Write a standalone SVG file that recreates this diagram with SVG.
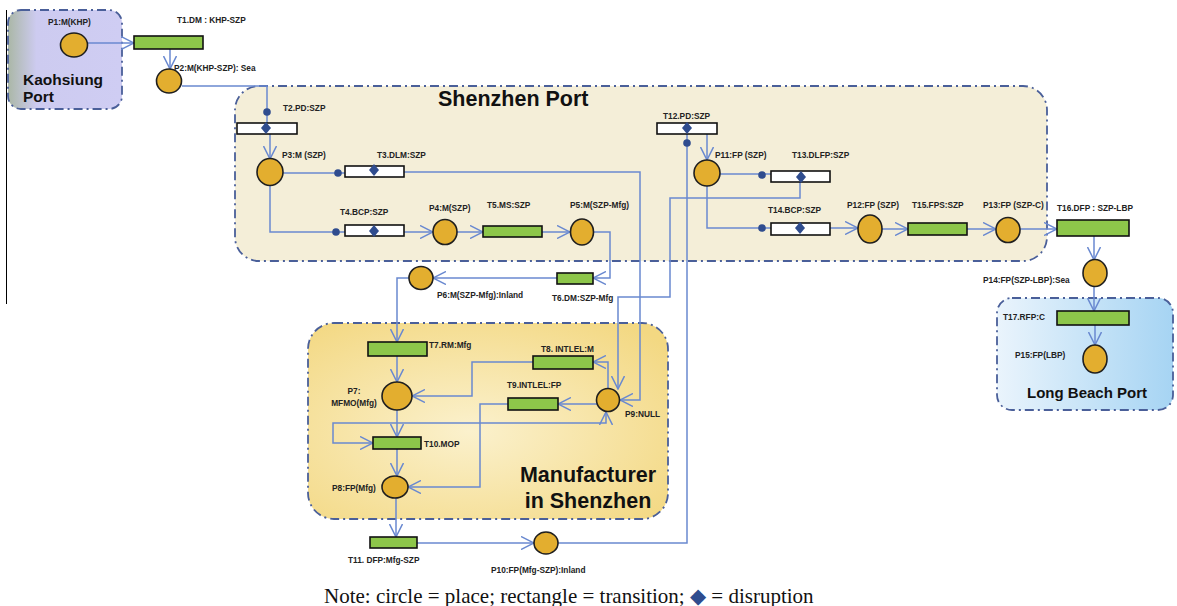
<svg xmlns="http://www.w3.org/2000/svg" width="1177" height="606" viewBox="0 0 1177 606">
<style>
.bx{stroke:#4a5f99;stroke-width:1.8;stroke-dasharray:9 4 2 4}
.pl{fill:#e3ae2f;stroke:#1f1f1f;stroke-width:1.6}
.tg{fill:#8dc64a;stroke:#111;stroke-width:1.6}
.tw{fill:#fff;stroke:#111;stroke-width:1.6}
.cn{fill:none;stroke:#6a89d0;stroke-width:1.5}
.ar{marker-end:url(#ah)}
.dm{fill:#2f4c8e}
.lb{font-family:"Liberation Sans",Arial,sans-serif;font-weight:bold;font-size:8.3px;fill:#222}
.tt{font-family:"Liberation Sans",Arial,sans-serif;font-weight:bold;fill:#111}
</style>
<defs>
<marker id="ah" viewBox="0 0 14 14" refX="13" refY="7" markerWidth="14" markerHeight="14" markerUnits="userSpaceOnUse" orient="auto">
<path d="M0,0.5 L13,7 L0,13.5" fill="none" stroke="#6a89d0" stroke-width="1.5"/>
</marker>
<marker id="ahs" viewBox="0 0 14 14" refX="13" refY="7" markerWidth="14" markerHeight="14" markerUnits="userSpaceOnUse" orient="auto-start-reverse">
<path d="M0,0.5 L13,7 L0,13.5" fill="none" stroke="#6a89d0" stroke-width="1.5"/>
</marker>
<linearGradient id="gk" x1="0" y1="0" x2="1" y2="0">
<stop offset="0" stop-color="#aab7a6"/><stop offset="0.25" stop-color="#cdcbf0"/><stop offset="1" stop-color="#cfcdf3"/>
</linearGradient>
<radialGradient id="gm" cx="0.45" cy="0.55" r="0.7">
<stop offset="0" stop-color="#fbf1cd"/><stop offset="1" stop-color="#f3d882"/>
</radialGradient>
<linearGradient id="gl" x1="0" y1="0" x2="1" y2="0">
<stop offset="0" stop-color="#eaf4fc"/><stop offset="1" stop-color="#a6d4f3"/>
</linearGradient>
</defs>

<line x1="6.5" y1="10" x2="6.5" y2="304" stroke="#000" stroke-width="1"/>

<g id="kaohsiung-port">
<rect class="bx" x="8" y="10" width="114" height="99" rx="13" fill="url(#gk)"/>
<text class="tt" font-size="15.5" x="23" y="85">Kaohsiung</text>
<text class="tt" font-size="15.5" x="23" y="102">Port</text>
</g>
<g id="shenzhen-port">
<rect class="bx" x="235" y="86" width="812" height="175" rx="24" fill="#f4eed8"/>
<text class="tt" font-size="21.5" x="438" y="106">Shenzhen Port</text>
</g>
<g id="manufacturer">
<rect class="bx" x="308" y="323" width="360" height="196" rx="26" fill="url(#gm)"/>
<text class="tt" font-size="21.5" x="588" y="482" text-anchor="middle">Manufacturer</text>
<text class="tt" font-size="21.5" x="588" y="508" text-anchor="middle">in Shenzhen</text>
</g>
<g id="long-beach-port">
<rect class="bx" x="997" y="298" width="176" height="112" rx="15" fill="url(#gl)"/>
<text class="tt" font-size="15" x="1087" y="398" text-anchor="middle">Long Beach Port</text>
</g>

<g id="connectors">
<path class="cn ar" d="M88,43 H134"/>
<path class="cn ar" d="M170,49 V69"/>
<path class="cn" d="M182,86 H267 V123"/>
<path class="cn ar" d="M270,134 V159"/>
<path class="cn" d="M283,173 H345"/>
<path class="cn ar" d="M404,172 H640 V400 H620"/>
<path class="cn" d="M270,186 V232 H345"/>
<path class="cn ar" d="M404,232 H433"/>
<path class="cn ar" d="M457,232 H483"/>
<path class="cn ar" d="M542,232 H570"/>
<path class="cn ar" d="M593,232 H610 V278 H593"/>
<path class="cn ar" d="M557,278 H433"/>
<path class="cn ar" d="M409,278 H397 V342"/>
<path class="cn ar" d="M397,356 V382"/>
<path class="cn ar" d="M533,362 H472 V396 H412"/>
<path class="cn ar" d="M608,389 V362 H593"/>
<path class="cn ar" d="M597,404 H558"/>
<path class="cn ar" d="M508,404 H480 V487 H408"/>
<path class="cn ar" d="M397,410 V437"/>
<path class="cn ar" d="M397,449 V476"/>
<path class="cn" marker-start="url(#ahs)" marker-end="url(#ah)" d="M373,443 H333 V423 H606 V412"/>
<path class="cn ar" d="M396,498 V537"/>
<path class="cn ar" d="M417,543 H534"/>
<path class="cn" d="M558,543 H687 V134"/>
<path class="cn ar" d="M707,134 V160"/>
<path class="cn" d="M720,174 H771"/>
<path class="cn ar" d="M800,182 V198 H670 V297 H618 V389"/>
<path class="cn" d="M707,186 V228 H771"/>
<path class="cn ar" d="M830,228 H858"/>
<path class="cn ar" d="M882,229 H908"/>
<path class="cn ar" d="M967,229 H996"/>
<path class="cn ar" d="M1020,229 H1057"/>
<path class="cn ar" d="M1094,236 V260"/>
<path class="cn ar" d="M1094,287 V311"/>
<path class="cn ar" d="M1095,325 V345"/>
</g>

<g id="P1"><ellipse class="pl" cx="74" cy="45" rx="13.5" ry="12"/><text class="lb" x="48" y="25">P1:M(KHP)</text></g>
<g id="T1"><rect class="tg" x="134" y="36" width="69" height="13"/><text class="lb" x="177" y="23">T1.DM : KHP-SZP</text></g>
<g id="P2"><ellipse class="pl" cx="169" cy="81" rx="12.5" ry="12"/><text class="lb" x="174" y="71">P2:M(KHP-SZP): Sea</text></g>
<g id="T2"><rect class="tw" x="237" y="123" width="60" height="11"/><text class="lb" x="283" y="111">T2.PD:SZP</text></g>
<g id="P3"><ellipse class="pl" cx="270" cy="172" rx="13" ry="13.5"/><text class="lb" x="282" y="158">P3:M (SZP)</text></g>
<g id="T3"><rect class="tw" x="345" y="166" width="59" height="11"/><text class="lb" x="377" y="158">T3.DLM:SZP</text></g>
<g id="T4"><rect class="tw" x="345" y="225" width="59" height="11"/><text class="lb" x="340" y="215">T4.BCP:SZP</text></g>
<g id="P4"><ellipse class="pl" cx="445" cy="232" rx="12" ry="12.5"/><text class="lb" x="429" y="211">P4:M(SZP)</text></g>
<g id="T5"><rect class="tg" x="483" y="226" width="59" height="11"/><text class="lb" x="487" y="208">T5.MS:SZP</text></g>
<g id="P5"><ellipse class="pl" cx="582" cy="232" rx="11.5" ry="13"/><text class="lb" x="570" y="208">P5:M(SZP-Mfg)</text></g>
<g id="T6"><rect class="tg" x="557" y="273" width="36" height="11"/><text class="lb" x="552" y="301">T6.DM:SZP-Mfg</text></g>
<g id="P6"><ellipse class="pl" cx="421" cy="278" rx="12" ry="11.5"/><text class="lb" x="437" y="298">P6:M(SZP-Mfg):Inland</text></g>
<g id="T7"><rect class="tg" x="368" y="342" width="59" height="14"/><text class="lb" x="429" y="348">T7.RM:Mfg</text></g>
<g id="P7"><ellipse class="pl" cx="397" cy="396" rx="15" ry="14"/><text class="lb" x="354" y="394" text-anchor="middle">P7:</text><text class="lb" x="354" y="406" text-anchor="middle">MFMO(Mfg)</text></g>
<g id="T8"><rect class="tg" x="533" y="356" width="60" height="13"/><text class="lb" x="541" y="352">T8. INTLEL:M</text></g>
<g id="T9"><rect class="tg" x="508" y="398" width="50" height="12"/><text class="lb" x="507" y="388">T9.INTLEL:FP</text></g>
<g id="P9"><ellipse class="pl" cx="608" cy="400" rx="11.5" ry="11.5"/><text class="lb" x="625" y="417">P9:NULL</text></g>
<g id="T10"><rect class="tg" x="373" y="437" width="48" height="12"/><text class="lb" x="424" y="447">T10.MOP</text></g>
<g id="P8"><ellipse class="pl" cx="395" cy="487" rx="13" ry="11"/><text class="lb" x="332" y="491">P8:FP(Mfg)</text></g>
<g id="T11"><rect class="tg" x="370" y="537" width="47" height="11"/><text class="lb" x="348" y="563">T11. DFP:Mfg-SZP</text></g>
<g id="P10"><ellipse class="pl" cx="546" cy="543" rx="12" ry="11"/><text class="lb" x="491" y="573">P10:FP(Mfg-SZP):Inland</text></g>
<g id="T12"><rect class="tw" x="657" y="123" width="60" height="11"/><text class="lb" x="663" y="119">T12.PD:SZP</text></g>
<g id="P11"><ellipse class="pl" cx="707" cy="173" rx="13" ry="13"/><text class="lb" x="715" y="158">P11:FP (SZP)</text></g>
<g id="T13"><rect class="tw" x="771" y="171" width="59" height="11"/><text class="lb" x="792" y="158">T13.DLFP:SZP</text></g>
<g id="T14"><rect class="tw" x="771" y="223" width="59" height="12"/><text class="lb" x="768" y="213">T14.BCP:SZP</text></g>
<g id="P12"><ellipse class="pl" cx="870" cy="229" rx="12" ry="14"/><text class="lb" x="847" y="208">P12:FP (SZP)</text></g>
<g id="T15"><rect class="tg" x="908" y="223" width="59" height="12"/><text class="lb" x="912" y="208">T15.FPS:SZP</text></g>
<g id="P13"><ellipse class="pl" cx="1008" cy="230" rx="12" ry="12.5"/><text class="lb" x="983" y="208">P13:FP (SZP-C)</text></g>
<g id="T16"><rect class="tg" x="1057" y="220" width="72" height="16"/><text class="lb" x="1057" y="211">T16.DFP : SZP-LBP</text></g>
<g id="P14"><ellipse class="pl" cx="1095" cy="273" rx="12" ry="13.5"/><text class="lb" x="983" y="283">P14:FP(SZP-LBP):Sea</text></g>
<g id="T17"><rect class="tg" x="1057" y="311" width="72" height="14"/><text class="lb" x="1003" y="320">T17.RFP:C</text></g>
<g id="P15"><ellipse class="pl" cx="1095" cy="359" rx="12" ry="14"/><text class="lb" x="1015" y="358">P15:FP(LBP)</text></g>

<g id="disruptions">
<circle class="dm" cx="267" cy="112" r="3.8"/>
<circle class="dm" cx="338" cy="173" r="3.8"/>
<circle class="dm" cx="336" cy="232" r="3.8"/>
<circle class="dm" cx="687" cy="143" r="3.8"/>
<circle class="dm" cx="762" cy="175" r="3.8"/>
<circle class="dm" cx="762" cy="228" r="3.8"/>
<path class="dm" d="M266,122 l5,6 l-5,6 l-5,-6 z"/>
<path class="dm" d="M374,164 l5,6 l-5,6 l-5,-6 z"/>
<path class="dm" d="M374,225 l5,6 l-5,6 l-5,-6 z"/>
<path class="dm" d="M687,122 l5,6 l-5,6 l-5,-6 z"/>
<path class="dm" d="M801,171 l5,6 l-5,6 l-5,-6 z"/>
<path class="dm" d="M800,222 l5,6 l-5,6 l-5,-6 z"/>
</g>

<text x="324" y="603" font-family="'Liberation Serif','Times New Roman',serif" font-size="21" fill="#111">Note: circle = place; rectangle = transition; <tspan fill="#2f4c8e" font-family="'DejaVu Sans',sans-serif">◆</tspan> = disruption</text>
</svg>
